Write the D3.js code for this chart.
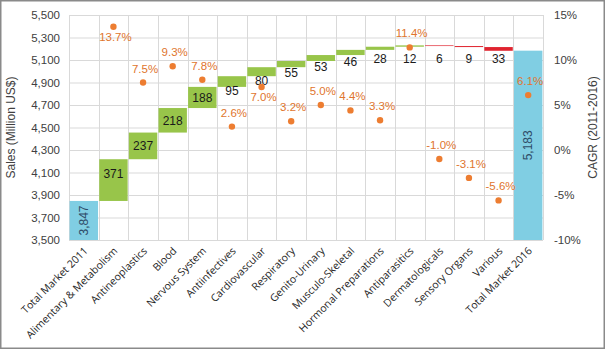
<!DOCTYPE html>
<html>
<head>
<meta charset="utf-8">
<script src="https://cdn.jsdelivr.net/npm/d3@7"></script>
<style>
  html, body { margin: 0; padding: 0; background: #fff; }
  svg { display: block; }
</style>
</head>
<body>
<div id="chart"></div>
<script>
const categories = ["Total Market 2011", "Alimentary & Metabolism", "Antineoplastics", "Blood",
  "Nervous System", "Antiinfectives", "Cardiovascular", "Respiratory", "Genito-Urinary",
  "Musculo-Skeletal", "Hormonal Preparations", "Antiparasitics", "Dermatologicals",
  "Sensory Organs", "Various", "Total Market 2016"];
const changes = [3847, 371, 237, 218, 188, 95, 80, 55, 53, 46, 28, 12, -6, -9, -33, 5183];
const cagr = [null, 13.7, 7.5, 9.3, 7.8, 2.6, 7.0, 3.2, 5.0, 4.4, 3.3, 11.4, -1.0, -3.1, -5.6, 6.1];
const salesTicks = d3.range(3500, 5501, 200);
const cagrTicks = [-10, -5, 0, 5, 10, 15];
const cagrBelow = ["Alimentary & Metabolism", "Cardiovascular"];

const W = 605, H = 349;
const margin = { top: 15, right: 62, bottom: 109, left: 69 },
  width = W - margin.left - margin.right,
  height = H - margin.top - margin.bottom;

// build waterfall steps
let run = 0;
const steps = categories.map((c, i) => {
  const total = i === 0 || i === categories.length - 1;
  let start, end;
  if (total) { start = 3500; end = changes[i]; run = changes[i]; }
  else { start = run; end = run + changes[i]; run = end; }
  return { cat: c, v: changes[i], start, end, total, cagr: cagr[i] };
});

const svg = d3.select("#chart").append("svg")
  .attr("width", W).attr("height", H);

svg.append("rect")
  .attr("x", 0.75).attr("y", 0.75).attr("width", W - 1.5).attr("height", H - 1.5)
  .attr("fill", "#fff").attr("stroke", "#8a8a8a").attr("stroke-width", 1.5);

const g = svg.append("g").attr("transform", `translate(${margin.left},${margin.top})`);

const x = d3.scaleBand().domain(categories).range([0, width]).paddingInner(0.04).paddingOuter(0.02);
const y = d3.scaleLinear().domain([3500, 5500]).range([height, 0]);
const y2 = d3.scaleLinear().domain([-10, 15]).range([height, 0]);

// grid
g.append("g").selectAll("line").data(salesTicks).join("line")
  .attr("x1", 0).attr("x2", width)
  .attr("y1", d => y(d) + 0.5).attr("y2", d => y(d) + 0.5)
  .attr("stroke", "#d9d9d9");
const step = width / categories.length;
g.append("g").selectAll("line").data(d3.range(categories.length + 1)).join("line")
  .attr("x1", d => Math.round(d * step) + 0.5).attr("x2", d => Math.round(d * step) + 0.5)
  .attr("y1", 0).attr("y2", height)
  .attr("stroke", "#d9d9d9");

// axes
const yAxis = g.append("g").call(d3.axisLeft(y).tickValues(salesTicks).tickFormat(d3.format(",")).tickSize(0).tickPadding(9));
const y2Axis = g.append("g").attr("transform", `translate(${width},0)`)
  .call(d3.axisRight(y2).tickValues(cagrTicks).tickFormat(d => d + "%").tickSize(0).tickPadding(11));
[yAxis, y2Axis].forEach(a => {
  a.select(".domain").remove();
  a.selectAll("text").attr("font-family", "Liberation Sans, Arial, sans-serif")
    .attr("font-size", 11.5).attr("fill", "#404040");
});

// bars
const colorOf = d => d.total ? "#80cee3" : (d.v >= 0 ? "#98c54a" : "#e0242f");
g.append("g").selectAll("rect").data(steps).join("rect")
  .attr("x", d => x(d.cat))
  .attr("width", x.bandwidth())
  .attr("y", d => y(Math.max(d.start, d.end)))
  .attr("height", d => Math.abs(y(d.start) - y(d.end)))
  .attr("fill", colorOf);

// bar labels
const topMost = d3.min(steps.filter(d => !d.total), d => y(Math.max(d.start, d.end)));
g.append("g").selectAll("text").data(steps.filter(d => !d.total)).join("text")
  .attr("x", d => x(d.cat) + x.bandwidth() / 2)
  .attr("y", d => {
    const mid = (y(d.start) + y(d.end)) / 2;
    if (Math.abs(d.v) >= 300) return mid - 6;
    if (Math.abs(d.v) >= 150) return mid;
    return Math.max(mid + 9, topMost + 13);
  })
  .attr("dy", "0.35em")
  .attr("text-anchor", "middle")
  .attr("font-family", "Liberation Sans, Arial, sans-serif")
  .attr("font-size", 12)
  .attr("fill", "#1a1a1a")
  .text(d => Math.abs(d.v));

g.append("g").selectAll("text").data(steps.filter(d => d.total)).join("text")
  .attr("transform", d => `translate(${x(d.cat) + x.bandwidth() / 2},${(y(d.start) + y(d.end)) / 2}) rotate(-90)`)
  .attr("dy", "0.35em")
  .attr("text-anchor", "middle")
  .attr("font-family", "Liberation Sans, Arial, sans-serif")
  .attr("font-size", 12)
  .attr("fill", "#2f4c68")
  .text(d => d3.format(",")(d.v));

// CAGR dots
const pts = steps.filter(d => d.cagr !== null);
g.append("g").selectAll("circle").data(pts).join("circle")
  .attr("cx", d => x(d.cat) + x.bandwidth() / 2)
  .attr("cy", d => y2(d.cagr))
  .attr("r", 3.2)
  .attr("fill", "#ed7d31");
g.append("g").selectAll("text").data(pts).join("text")
  .attr("x", d => x(d.cat) + x.bandwidth() / 2 + 2)
  .attr("y", d => y2(d.cagr) + (cagrBelow.includes(d.cat) ? 10 : -14))
  .attr("dy", "0.35em")
  .attr("text-anchor", "middle")
  .attr("font-family", "Liberation Sans, Arial, sans-serif")
  .attr("font-size", 11.5)
  .attr("fill", "#e0752d")
  .text(d => d.cagr.toFixed(1) + "%");

// x labels
g.append("g").selectAll("text").data(categories).join("text")
  .attr("transform", d => `translate(${x(d) + x.bandwidth() / 2 + 2},${height + 9}) rotate(-45)`)
  .attr("dy", "0.35em")
  .attr("text-anchor", "end")
  .attr("font-family", "Open Sans, sans-serif")
  .attr("font-size", 10.5)
  .attr("fill", "#262626")
  .text(d => d);

// axis titles
g.append("text")
  .attr("transform", `translate(${-54},${height / 2}) rotate(-90)`)
  .attr("text-anchor", "middle")
  .attr("font-family", "Liberation Sans, Arial, sans-serif")
  .attr("font-size", 12)
  .attr("fill", "#404040")
  .text("Sales (Million US$)");
g.append("text")
  .attr("transform", `translate(${width + 54},${height / 2}) rotate(-90)`)
  .attr("text-anchor", "middle")
  .attr("font-family", "Liberation Sans, Arial, sans-serif")
  .attr("font-size", 12)
  .attr("fill", "#404040")
  .text("CAGR (2011-2016)");
</script>
</body>
</html>
